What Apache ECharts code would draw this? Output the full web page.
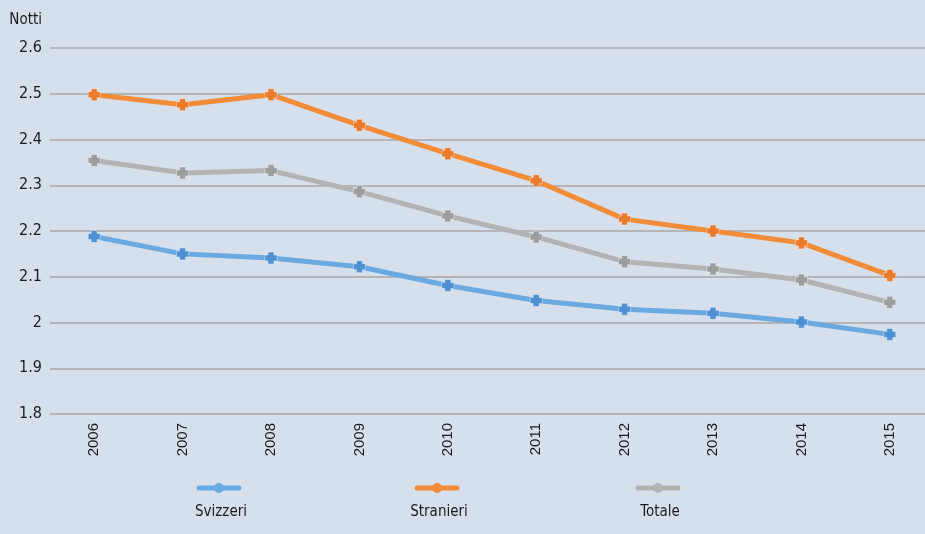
<!DOCTYPE html>
<html>
<head>
<meta charset="utf-8">
<script src="https://cdn.jsdelivr.net/npm/echarts@6/dist/echarts.min.js"></script>
<style>
  html, body { margin: 0; padding: 0; background: #d6e0ec; }
  #chart { width: 925px; height: 534px; }
</style>
</head>
<body>
<div id="chart"></div>
<script>
// Pernottamenti medi (notti) per provenienza degli ospiti
const years = ['2006', '2007', '2008', '2009', '2010', '2011', '2012', '2013', '2014', '2015'];
const svizzeri  = [2.188, 2.150, 2.141, 2.122, 2.081, 2.048, 2.029, 2.020, 2.001, 1.974];
const stranieri = [2.498, 2.476, 2.498, 2.431, 2.369, 2.310, 2.226, 2.200, 2.174, 2.103];
const totale    = [2.354, 2.327, 2.332, 2.286, 2.233, 2.187, 2.133, 2.117, 2.093, 2.044];
const seriesNames = ['Svizzeri', 'Stranieri', 'Totale'];

const lineColors   = ['#6aaae0', '#f28c38', '#b3b3b3'];
const markerColors = ['#4f90d2', '#ea7a2c', '#9d9d9d'];
const condensed = '"DejaVu Sans Condensed", "Liberation Sans", Arial, sans-serif';
const plusPath = 'path://M2.5,0H7.5V2.5H10V7.5H7.5V10H2.5V7.5H0V2.5H2.5Z';

const chart = echarts.init(document.getElementById('chart'));

function makeSeries(name, data, i) {
  return {
    name: name,
    type: 'line',
    data: data,
    symbol: plusPath,
    symbolSize: 12,
    lineStyle: { color: lineColors[i], width: 5 },
    itemStyle: { color: markerColors[i], borderColor: 'rgba(255,255,255,0.4)', borderWidth: 1 },
    z: 3 - i
  };
}

// Legend: line sample above each label
const legendCenters = [219, 437, 658];
const legendGraphics = [];
seriesNames.forEach(function (name, i) {
  const cx = legendCenters[i];
  legendGraphics.push({
    type: 'group',
    children: [
      { type: 'line', shape: { x1: cx - 20, y1: 488, x2: cx + 20, y2: 488 },
        style: { stroke: lineColors[i], lineWidth: 5, lineCap: 'round' } },
      { type: 'circle', shape: { cx: cx, cy: 488, r: 5 }, style: { fill: lineColors[i] } },
      { type: 'text', x: cx + 2, y: 512,
        style: { text: name, fill: '#1a1a1a', font: '15px ' + condensed, align: 'center', verticalAlign: 'middle' } }
    ]
  });
});

chart.setOption({
  backgroundColor: '#d6e0ec',
  animation: false,
  // the plot area runs past the right edge of the canvas
  grid: { left: 50, width: 884, top: 48, bottom: 120, containLabel: false, outerBoundsMode: 'none' },
  xAxis: {
    type: 'category',
    data: years,
    boundaryGap: true,
    axisLine: { show: false },
    axisTick: { show: false },
    axisLabel: { rotate: 90, margin: 9, color: '#1a1a1a', fontSize: 15, fontFamily: '"Liberation Sans", Arial, sans-serif' }
  },
  yAxis: {
    type: 'value',
    min: 1.8,
    max: 2.6,
    interval: 0.1,
    name: 'Notti',
    nameLocation: 'end',
    nameGap: 28,
    nameTextStyle: { align: 'right', verticalAlign: 'middle', padding: [0, 8, 0, 0], color: '#1a1a1a', fontSize: 15, fontWeight: 500, fontFamily: condensed },
    axisLine: { show: false },
    axisTick: { show: false },
    axisLabel: { margin: 8, color: '#1a1a1a', fontSize: 16, fontFamily: condensed },
    splitLine: { lineStyle: { color: '#a7a7a7', width: 1.5 } }
  },
  series: [
    makeSeries(seriesNames[0], svizzeri, 0),
    makeSeries(seriesNames[1], stranieri, 1),
    makeSeries(seriesNames[2], totale, 2)
  ],
  graphic: legendGraphics
});
</script>
</body>
</html>
